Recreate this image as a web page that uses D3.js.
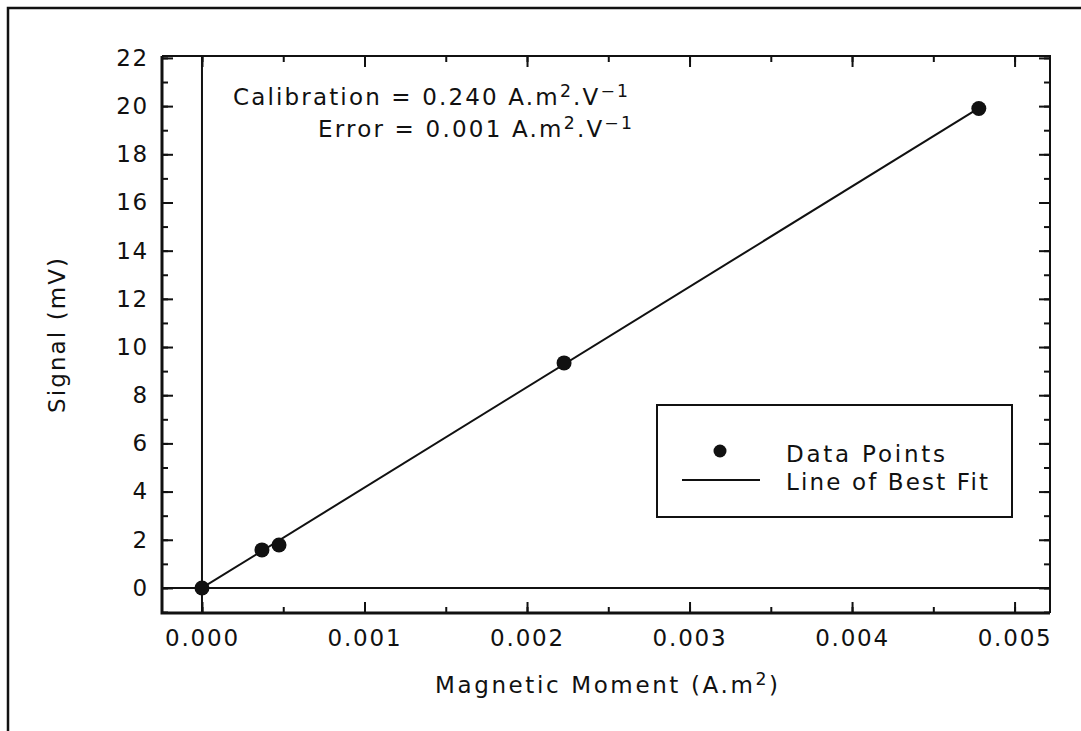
<!DOCTYPE html>
<html><head><meta charset="utf-8">
<script src="https://cdn.jsdelivr.net/npm/d3@7"></script>
<style>
html,body{margin:0;padding:0;background:#fff;}
text{font-family:"DejaVu Sans",sans-serif;fill:#111;}
</style></head><body>
<svg id="c" width="1081" height="731"></svg>
<script>
const moment = [0.0, 0.000369, 0.000474, 0.002228, 0.00478];
const signal = [0.0, 1.58, 1.78, 9.34, 19.9];
const xTicks = [0.000, 0.001, 0.002, 0.003, 0.004, 0.005];
const yTicks = [0, 2, 4, 6, 8, 10, 12, 14, 16, 18, 20, 22];
const calibration = 0.240; // A.m2.V-1
const fitSlope = 1000 / calibration; // mV per A.m2
const fitRange = [0.0, 0.00478];

const svg = d3.select("#c");
const W = 1081, H = 731;
const m = {left:162, right:1050, top:56, bottom:613};
const x = d3.scaleLinear().domain([-0.000246, 0.005218]).range([m.left, m.right]);
const y = d3.scaleLinear().domain([-1.04, 22.08]).range([m.bottom, m.top]);
const fs = 23;
const FONT = "DejaVu Sans";

// stretch letter spacing so a text spans a target width
function fitWidth(t, target){
  const n = t.text().length;
  const w = t.node().getComputedTextLength();
  t.attr("letter-spacing", (target - w)/(n - 1));
  return t;
}

// outer frame
svg.append("path").attr("d", `M8,${H} L8,8 L${W},8`).attr("fill","none").attr("stroke","#111").attr("stroke-width",2.5);

// zero lines
svg.append("line").attr("x1",x(0)).attr("x2",x(0)).attr("y1",m.top).attr("y2",m.bottom).attr("stroke","#111").attr("stroke-width",2);
svg.append("line").attr("x1",m.left).attr("x2",m.right).attr("y1",y(0)).attr("y2",y(0)).attr("stroke","#111").attr("stroke-width",2);

// axes
const xMinor = d3.range(0, 0.0052, 0.0005);
const yMinor = d3.range(-1, 22.5, 1);
function styleAxis(g){ g.select(".domain").remove(); g.selectAll("line").attr("stroke","#111").attr("stroke-width",2); }
function styleText(g){ g.selectAll("text").attr("font-size",fs).attr("font-family",FONT).attr("letter-spacing",1.8).attr("fill","#111"); }
svg.append("g").attr("transform",`translate(0,${m.bottom})`)
  .call(d3.axisBottom(x).tickValues(xMinor).tickSize(-6).tickFormat(""))
  .call(styleAxis);
svg.append("g").attr("transform",`translate(0,${m.bottom})`)
  .call(d3.axisBottom(x).tickValues(xTicks).tickSize(-11).tickPadding(17).tickFormat(d3.format(".3f")))
  .call(styleAxis).call(styleText);
svg.append("g").attr("transform",`translate(0,${m.top})`)
  .call(d3.axisTop(x).tickValues(xMinor).tickSize(-6).tickFormat("")).call(styleAxis);
svg.append("g").attr("transform",`translate(0,${m.top})`)
  .call(d3.axisTop(x).tickValues(xTicks).tickSize(-11).tickFormat("")).call(styleAxis);

svg.append("g").attr("transform",`translate(${m.left},0)`)
  .call(d3.axisLeft(y).tickValues(yMinor).tickSize(-6).tickFormat("")).call(styleAxis);
svg.append("g").attr("transform",`translate(${m.left},0)`)
  .call(d3.axisLeft(y).tickValues(yTicks).tickSize(-11).tickPadding(13).tickFormat(d3.format("d")))
  .call(styleAxis).call(styleText);
svg.append("g").attr("transform",`translate(${m.right},0)`)
  .call(d3.axisRight(y).tickValues(yMinor).tickSize(-6).tickFormat("")).call(styleAxis);
svg.append("g").attr("transform",`translate(${m.right},0)`)
  .call(d3.axisRight(y).tickValues(yTicks).tickSize(-11).tickFormat("")).call(styleAxis);

// plot frame
svg.append("path").attr("d",`M${m.left},${m.top} L${m.right},${m.top} L${m.right},${m.bottom}`).attr("fill","none").attr("stroke","#111").attr("stroke-width",2);
svg.append("path").attr("d",`M${m.left},${m.top} L${m.left},${m.bottom} L${m.right},${m.bottom}`).attr("fill","none").attr("stroke","#111").attr("stroke-width",3);

// fit line
const line = d3.line().x(d=>x(d)).y(d=>y(fitSlope*d));
svg.append("path").datum(fitRange).attr("d",line).attr("fill","none").attr("stroke","#111").attr("stroke-width",2);

// points
svg.selectAll("circle.pt").data(moment.map((v,i)=>[v,signal[i]])).enter().append("circle")
  .attr("class","pt").attr("cx",d=>x(d[0])).attr("cy",d=>y(d[1])).attr("r",7.5).attr("fill","#111");

// annotation
function supText(xx, yy, parts, target){
  const tx = svg.append("text").attr("x",xx).attr("y",yy).attr("font-size",fs);
  parts.forEach(p=>{
    const s = tx.append("tspan").text(p[0]);
    if(p[1]) s.attr("font-size",fs*0.75).attr("dy",-8);
    else if(p[2]) s.attr("dy",8);
  });
  fitWidth(tx, target);
  return tx;
}
supText(233, 105, [["Calibration = 0.240 A.m"],["2",1],[".V",0,1],["\u22121",1]], 395);
supText(318, 137, [["Error = 0.001 A.m"],["2",1],[".V",0,1],["\u22121",1]], 314);

// legend
svg.append("rect").attr("x",657).attr("y",405).attr("width",355).attr("height",112).attr("fill","#fff").attr("stroke","#111").attr("stroke-width",2);
svg.append("circle").attr("cx",720).attr("cy",451).attr("r",6.5).attr("fill","#111");
svg.append("line").attr("x1",682).attr("x2",760).attr("y1",480).attr("y2",480).attr("stroke","#111").attr("stroke-width",2);
fitWidth(svg.append("text").attr("x",786).attr("y",462).attr("font-size",fs).text("Data Points"), 159);
fitWidth(svg.append("text").attr("x",786).attr("y",490).attr("font-size",fs).text("Line of Best Fit"), 202);

// axis titles
const xt = svg.append("text").attr("x",435).attr("y",693).attr("font-size",fs);
xt.append("tspan").text("Magnetic Moment (A.m");
xt.append("tspan").text("2").attr("font-size",fs*0.75).attr("dy",-8);
xt.append("tspan").text(")").attr("dy",8);
fitWidth(xt, 343);
fitWidth(svg.append("text").attr("transform","translate(65,413) rotate(-90)").attr("font-size",fs).text("Signal (mV)"), 155);
</script></body></html>
